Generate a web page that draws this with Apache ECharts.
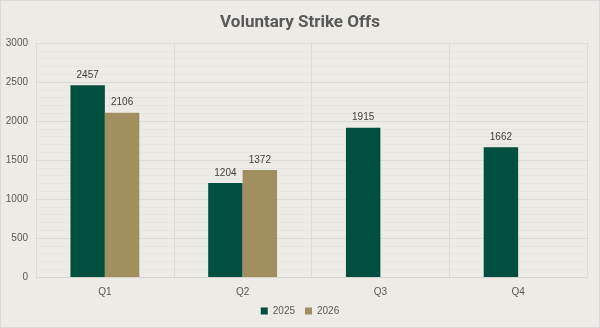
<!DOCTYPE html>
<html>
<head>
<meta charset="utf-8">
<script src="https://cdn.jsdelivr.net/npm/echarts@6/dist/echarts.min.js"></script>
<style>
  html, body { margin: 0; padding: 0; background: #EDEBE5; }
  #chart { width: 600px; height: 328px; box-sizing: border-box; border: 1px solid #D9D9D9; }
</style>
</head>
<body>
<div id="chart"></div>
<script>
// data
var quarters = ['Q1', 'Q2', 'Q3', 'Q4'];
var values2025 = [2457, 1204, 1915, 1662];
var values2026 = [2106, 1372, null, null];

var chart = echarts.init(document.getElementById('chart'));

var labelStyle = { show: true, position: 'top', color: '#404040', fontSize: 10, fontFamily: 'Liberation Sans', distance: 5 };

chart.setOption({
    backgroundColor: '#EDEBE5',
    animation: false,
    title: {
        text: 'Voluntary Strike Offs',
        left: 'center',
        top: 8,
        textStyle: { color: '#595959', fontSize: 17, fontWeight: 'bold', fontFamily: 'Roboto' }
    },
    legend: {
        bottom: 6,
        left: 'center',
        itemWidth: 7,
        itemHeight: 7,
        itemGap: 10,
        icon: 'rect',
        textStyle: { color: '#595959', fontSize: 10, fontFamily: 'Liberation Sans' },
        data: ['2025', '2026']
    },
    grid: { left: 35, right: 12, top: 42, bottom: 50, containLabel: false },
    xAxis: {
        type: 'category',
        data: quarters,
        axisLine: { show: true, lineStyle: { color: '#D6D4CE' } },
        axisTick: { show: false },
        axisLabel: { color: '#595959', fontSize: 10, fontFamily: 'Liberation Sans', margin: 10 },
        splitLine: { show: true, lineStyle: { color: '#DCDAD4' } }
    },
    yAxis: {
        type: 'value',
        min: 0,
        max: 3000,
        interval: 500,
        axisLine: { show: false },
        axisTick: { show: false },
        axisLabel: {
            color: '#595959', fontSize: 10, fontFamily: 'Liberation Sans', margin: 8,
            formatter: function (v) { return String(v); }
        },
        splitLine: { show: true, lineStyle: { color: '#DCDAD4' } },
        minorTick: { show: false, splitNumber: 5 },
        minorSplitLine: { show: true, lineStyle: { color: '#E7E5DF' } }
    },
    series: [
        {
            name: '2025',
            type: 'bar',
            data: values2025,
            barGap: '0%',
            barCategoryGap: '50%',
            itemStyle: { color: '#00503F' },
            label: labelStyle
        },
        {
            name: '2026',
            type: 'bar',
            data: values2026,
            itemStyle: { color: '#A18F5F' },
            label: labelStyle
        }
    ]
});
</script>
</body>
</html>
